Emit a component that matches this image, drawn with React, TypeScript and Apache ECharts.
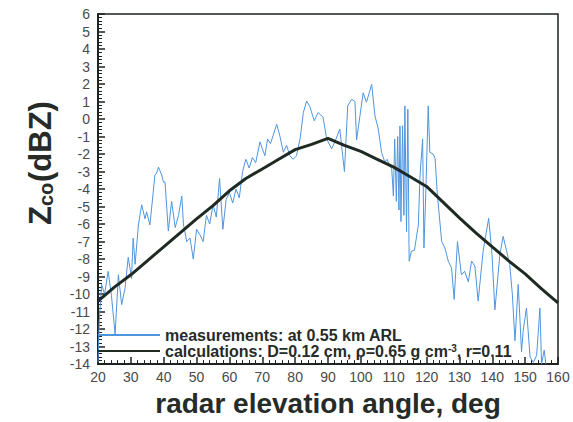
import React, { useEffect, useRef } from "react";
import * as echarts from "echarts";

// Measured co-polar reflectivity versus radar elevation angle
const measAngles = [
  20.0, 20.4, 21.1, 22.0, 23.1, 24.1, 25.2, 26.2, 27.2, 28.2,
  29.2, 30.2, 30.7, 31.3, 32.3, 33.3, 34.3, 34.8, 35.8, 36.8,
  37.3, 37.8, 38.4, 39.4, 39.9, 40.4, 41.4, 42.4, 43.5, 44.5,
  45.5, 46.0, 47.0, 48.0, 49.0, 50.0, 51.0, 52.0, 53.0, 54.0,
  55.0, 56.0, 57.0, 58.0, 59.0, 60.0, 61.0, 62.0, 63.0, 64.0,
  65.0, 66.0, 67.0, 68.0, 69.3, 70.0, 70.8, 71.6, 72.5, 74.4,
  75.4, 76.4, 77.4, 78.4, 79.4, 80.4, 81.5, 82.5, 83.5, 84.5,
  85.8, 87.0, 88.5, 89.6, 91.1, 92.1, 93.6, 95.0, 96.0, 97.2,
  98.2, 98.7, 100.7, 101.7, 103.3, 104.3, 105.3, 106.3, 107.3, 108.0,
  108.8, 109.4, 109.9, 110.3, 110.8, 111.2, 111.6, 111.9, 112.2, 112.7,
  113.1, 113.4, 113.9, 114.3, 114.7, 115.4, 116.3, 117.5, 118.0, 118.8,
  119.2, 119.8, 120.5, 121.0, 122.0, 122.6, 123.3, 124.6, 125.6, 126.6,
  127.6, 128.4, 129.4, 130.6, 131.6, 132.7, 133.7, 134.7, 135.7, 137.2,
  138.9, 139.9, 140.8, 142.3, 143.3, 144.3, 145.3, 146.1, 146.9, 147.9,
  148.9, 149.4, 150.4, 151.5, 152.5, 153.5, 154.5, 155.0, 155.8, 156.3,
];
const measValues = [
  -13.9, -11.5, -9.45, -10.0, -8.7, -10.1, -12.3, -8.9, -10.6, -9.7,
  -7.9, -9.1, -6.8, -8.3, -6.05, -4.9, -5.7, -5.3, -6.05, -4.2,
  -3.2, -3.1, -2.75, -3.2, -3.6, -3.6, -6.4, -4.7, -6.2, -5.5,
  -4.4, -6.0, -7.0, -6.8, -8.0, -6.3, -6.6, -7.0, -5.5, -6.0,
  -4.9, -5.6, -3.4, -6.3, -4.6, -4.2, -4.8, -4.0, -4.5, -3.0,
  -2.3, -2.8, -2.2, -2.5, -1.3, -1.7, -2.1, -1.14, -1.4, -0.3,
  -1.0, -1.9, -1.5, -2.1, -2.3, -2.1, -1.14, 0.37, 1.03, 0.7,
  -0.1, 0.37, 0.1, -1.14, -1.7, -1.3, -0.57, -3.0, 0.75, 1.13,
  1.0, -1.2, 1.5, 0.96, 1.98, 0.18, -0.57, -1.9, -2.46, -2.3,
  -2.7, -2.84, -4.4, -1.14, -4.7, -1.0, -5.2, -0.4, -5.86, -0.38,
  -5.5, 0.75, -6.43, 0.56, -8.12, -7.55, -7.5, -6.05, -3.22, -1.14,
  -7.37, -4.0, 0.75, -1.9, -2.0, -2.27, -4.35, -7.0, -7.37, -8.12,
  -8.5, -10.3, -7.0, -8.9, -8.7, -9.3, -8.12, -8.4, -10.4, -7.56,
  -5.67, -7.7, -10.9, -7.75, -6.7, -7.5, -8.3, -10.0, -12.66, -9.45,
  -13.3, -12.1, -10.8, -13.6, -13.9, -13.5, -10.8, -14.0, -13.2, -14.0,
];

// Model calculation
const calcAngles = [
  20, 25, 30, 35, 40, 45, 50, 55, 60, 65, 70, 75, 80, 85, 90,
  95, 100, 105, 110, 115, 120, 125, 130, 135, 140, 145, 150, 155, 160,
];
const calcValues = [
  -10.4, -9.6, -8.9, -8.1, -7.3, -6.5, -5.7, -4.95, -4.1, -3.4, -2.85, -2.3, -1.75, -1.45, -1.1,
  -1.5, -1.85, -2.3, -2.75, -3.3, -3.85, -4.75, -5.65, -6.5, -7.3, -8.1, -8.85, -9.7, -10.5,
];

const MEAS_NAME = "measurements: at 0.55 km ARL";
const CALC_NAME = "calculations: D=0.12 cm, ρ=0.65 g cm-3, r=0.11";

const FONT = "'Liberation Sans', Arial, Helvetica, sans-serif";
const TITLE_COLOR = "#262b27";
const LABEL_COLOR = "#4a4a4a";
const FRAME_COLOR = "#1e231f";
const MEAS_COLOR = "#4f95de";
const CALC_COLOR = "#1e2a22";

export default function App() {
  const ref = useRef<HTMLDivElement>(null);

  useEffect(() => {
    if (!ref.current) return;
    const chart = echarts.init(ref.current, null, { renderer: "svg" });

    const measData = measAngles.map((a, i) => [a, measValues[i]]);
    const calcData = calcAngles.map((a, i) => [a, calcValues[i]]);

    const axisCommon = {
      axisLine: { show: true, onZero: false, lineStyle: { color: FRAME_COLOR, width: 2 } },
      axisTick: { show: true, inside: true, length: 7, lineStyle: { color: FRAME_COLOR, width: 1.5 } },
      minorTick: { show: true, splitNumber: 5, length: 4, lineStyle: { color: FRAME_COLOR, width: 1 } },
      splitLine: { show: false },
      minorSplitLine: { show: false },
    };

    chart.setOption({
      animation: false,
      backgroundColor: "#ffffff",
      textStyle: { fontFamily: FONT },
      grid: {
        left: 98,
        right: 15,
        top: 14,
        bottom: 55,
        show: true,
        borderColor: FRAME_COLOR,
        borderWidth: 1.5,
        backgroundColor: "transparent",
      },
      xAxis: {
        type: "value",
        min: 20,
        max: 160,
        interval: 10,
        ...axisCommon,
        axisLabel: { color: LABEL_COLOR, fontSize: 14, margin: 6, fontFamily: FONT },
        name: "radar elevation angle, deg",
        nameLocation: "middle",
        nameGap: 20,
        nameTextStyle: { color: TITLE_COLOR, fontSize: 28, fontWeight: "bold", fontFamily: FONT },
      },
      yAxis: {
        type: "value",
        min: -14,
        max: 6,
        interval: 1,
        ...axisCommon,
        axisLabel: { color: LABEL_COLOR, fontSize: 14, margin: 8, fontFamily: FONT },
      },
      legend: {
        left: 97,
        top: 327,
        padding: 0,
        orient: "vertical",
        itemWidth: 62,
        itemHeight: 10,
        itemGap: 0,
        selectedMode: false,
        itemStyle: { opacity: 0 },
        data: [MEAS_NAME, CALC_NAME],
        formatter: (name: string) =>
          name === CALC_NAME
            ? "calculations: D=0.12 cm, ρ=0.65 g cm{sup|-3}, r=0.11"
            : name,
        textStyle: {
          color: TITLE_COLOR,
          fontSize: 16,
          fontWeight: "bold",
          fontFamily: FONT,
          rich: {
            sup: { fontSize: 10, fontWeight: "bold", color: TITLE_COLOR, verticalAlign: "top", fontFamily: FONT },
          },
        },
      },
      graphic: [
        {
          // vertical axis title: Z with subscript "co", then (dBZ)
          type: "group",
          x: 40,
          y: 162,
          rotation: Math.PI / 2,
          children: [
            {
              type: "text",
              x: -63,
              y: 0,
              style: {
                text: "Z",
                font: `bold 31px ${FONT}`,
                fill: TITLE_COLOR,
                verticalAlign: "middle",
                align: "left",
              },
            },
            {
              type: "text",
              x: -44,
              y: 6,
              style: {
                text: "co",
                font: `bold 20px ${FONT}`,
                fill: TITLE_COLOR,
                verticalAlign: "middle",
                align: "left",
              },
            },
            {
              type: "text",
              x: -20,
              y: 0,
              style: {
                text: "(dBZ)",
                font: `bold 31px ${FONT}`,
                fill: TITLE_COLOR,
                verticalAlign: "middle",
                align: "left",
              },
            },
          ],
        },
      ],
      series: [
        {
          name: MEAS_NAME,
          type: "line",
          data: measData,
          symbol: "none",
          clip: true,
          lineStyle: { color: MEAS_COLOR, width: 1 },
          itemStyle: { color: MEAS_COLOR },
          z: 2,
        },
        {
          name: CALC_NAME,
          type: "line",
          data: calcData,
          symbol: "none",
          clip: true,
          lineStyle: { color: CALC_COLOR, width: 3 },
          itemStyle: { color: CALC_COLOR },
          z: 3,
        },
      ],
    });

    return () => chart.dispose();
  }, []);

  return (
    <div
      ref={ref}
      style={{ position: "fixed", left: 0, top: 0, width: 573, height: 422, background: "#fff" }}
    />
  );
}
